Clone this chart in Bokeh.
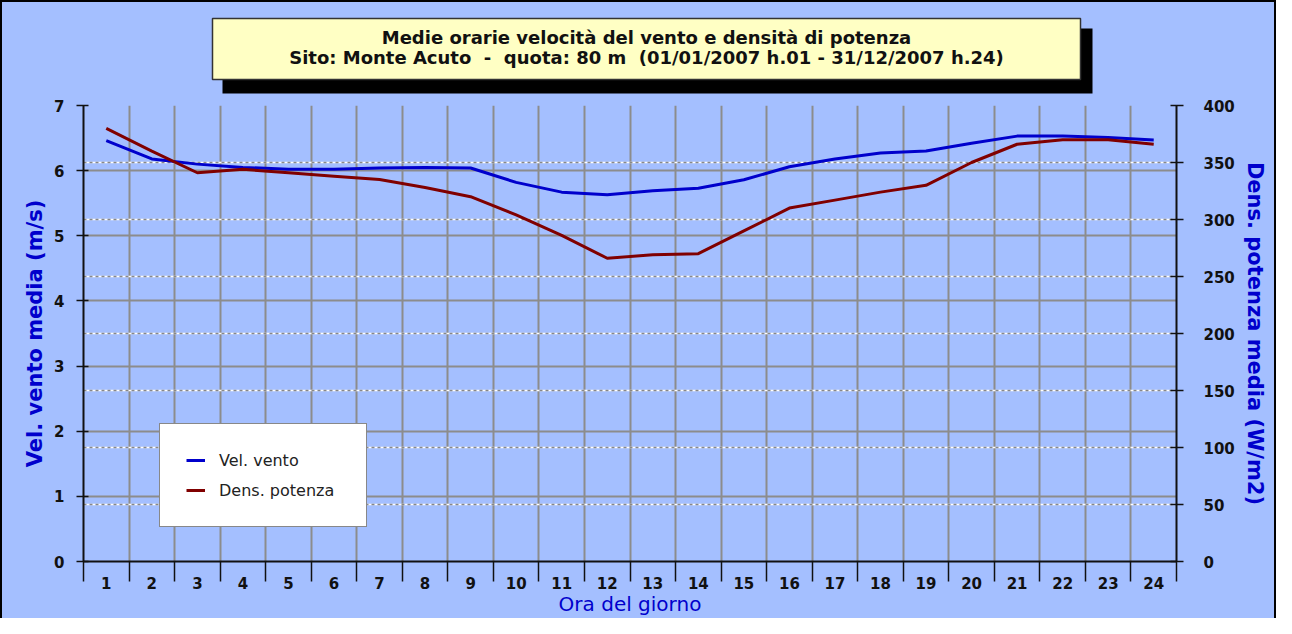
from bokeh.plotting import figure
from bokeh.models import (Range1d, LinearAxis, FixedTicker, Grid, Legend, LegendItem)
from bokeh.layouts import column
from bokeh.core.properties import value
from bokeh.embed import file_html
from bokeh.resources import INLINE

# ---- data ----
hours = list(range(1, 25))
vel_vento = [6.46, 6.18, 6.10, 6.05, 6.02, 6.02, 6.04, 6.05, 6.04, 5.82, 5.67, 5.63,
             5.69, 5.73, 5.86, 6.06, 6.18, 6.27, 6.30, 6.42, 6.53, 6.53, 6.51, 6.47]
dens_potenza = [380, 360, 341, 344, 341, 338, 335, 328, 320, 304, 286, 266,
                269, 270, 290, 310, 317, 324, 330, 350, 366, 370, 370, 366]
left_ticks = [0, 1, 2, 3, 4, 5, 6, 7]
right_ticks = [0, 50, 100, 150, 200, 250, 300, 350, 400]
series_names = ["Vel. vento", "Dens. potenza"]
title_lines = ["Medie orarie velocità del vento e densità di potenza",
               "Sito: Monte Acuto \u00a0-\u00a0 quota: 80 m \u00a0(01/01/2007 h.01 - 31/12/2007 h.24)"]
x_title = "Ora del giorno"
y_title = "Vel. vento media (m/s)"
y2_title = "Dens. potenza media (W/m2)"

BG = "#A4BFFF"
BLUE = "#0000CC"
RED = "#800000"
GRID = "#8c8c8c"
INK = "#111111"
FONT = "DejaVu Sans"

W = 1272
TOP_H = 92
MAIN_H = 524
BL, BR = 81, 98          # side borders of the plot frame

# ---------------- title strip ----------------
t = figure(width=W, height=TOP_H, output_backend="svg", toolbar_location=None,
           x_range=Range1d(BL, W - BR), y_range=Range1d(TOP_H, 0),
           min_border_left=BL, min_border_right=BR, min_border_top=0, min_border_bottom=0,
           styles={"background-color": BG})
t.axis.visible = False
t.grid.visible = False
t.outline_line_color = None
t.background_fill_color = BG
t.border_fill_color = BG
# shadow and box of the title
t.quad(left=[220], right=[1090], top=[26], bottom=[91], fill_color="black", line_color=None)
t.quad(left=[210], right=[1078], top=[16], bottom=[77], fill_color="#FFFFC4",
       line_color="#333333", line_width=1.5)
t.text(x=[644, 644], y=[35, 55], text=title_lines, text_align="center",
       text_baseline="middle", text_font=value(FONT), text_font_style="bold",
       text_font_size="18px", text_color=INK)

# ---------------- main chart ----------------
boundaries = [h - 0.5 for h in hours] + [hours[-1] + 0.5]

p = figure(width=W, height=MAIN_H, output_backend="svg", toolbar_location=None,
           x_range=Range1d(boundaries[0], boundaries[-1]),
           y_range=Range1d(left_ticks[0], left_ticks[-1]),
           min_border_left=BL, min_border_right=BR, min_border_top=11, min_border_bottom=56,
           styles={"background-color": BG})
p.background_fill_color = BG
p.border_fill_color = BG
p.outline_line_color = None
p.extra_y_ranges = {"right": Range1d(right_ticks[0], right_ticks[-1])}

# grids
p.xgrid.ticker = FixedTicker(ticks=boundaries)
p.xgrid.grid_line_color = GRID
p.xgrid.grid_line_width = 2
p.ygrid.ticker = FixedTicker(ticks=left_ticks)
p.ygrid.grid_line_color = GRID
p.ygrid.grid_line_width = 2
g_white = Grid(dimension=1, y_range_name="right", ticker=FixedTicker(ticks=right_ticks[1:-1]),
               grid_line_color="white", grid_line_width=1.5)
g_dash = Grid(dimension=1, y_range_name="right", ticker=FixedTicker(ticks=right_ticks[1:-1]),
              grid_line_color="#888888", grid_line_width=1.5, grid_line_dash="3 3")
p.add_layout(g_white)
p.add_layout(g_dash)

# x axis
xa = p.xaxis[0]
xa.ticker = FixedTicker(ticks=hours, minor_ticks=boundaries)
xa.major_tick_line_color = None
xa.major_tick_out = 0
xa.major_tick_in = 0
xa.minor_tick_out = 20
xa.minor_tick_in = 0
xa.minor_tick_line_color = INK
xa.minor_tick_line_width = 1.5
xa.axis_line_color = INK
xa.axis_line_width = 2
xa.major_label_standoff = -5
xa.major_label_text_font = FONT
xa.major_label_text_font_style = "bold"
xa.major_label_text_font_size = "15px"
xa.major_label_text_color = INK
xa.axis_label = x_title
xa.axis_label_text_font = FONT
xa.axis_label_text_font_style = "normal"
xa.axis_label_text_font_size = "20px"
xa.axis_label_text_color = BLUE
xa.axis_label_standoff = 0

# left axis
ya = p.yaxis[0]
ya.ticker = FixedTicker(ticks=left_ticks)
ya.major_tick_in = 5
ya.major_tick_out = 7
ya.major_tick_line_color = INK
ya.major_tick_line_width = 1.5
ya.axis_line_color = INK
ya.axis_line_width = 2
ya.major_label_standoff = 12
ya.major_label_text_font = FONT
ya.major_label_text_font_style = "bold"
ya.major_label_text_font_size = "15px"
ya.major_label_text_color = INK
ya.axis_label = y_title
ya.axis_label_text_font = FONT
ya.axis_label_text_font_style = "bold"
ya.axis_label_text_font_size = "21px"
ya.axis_label_text_color = BLUE
ya.axis_label_standoff = 4

# right axis
ra = LinearAxis(y_range_name="right", ticker=FixedTicker(ticks=right_ticks))
ra.major_tick_in = 6
ra.major_tick_out = 7
ra.major_tick_line_color = INK
ra.major_tick_line_width = 1.5
ra.minor_tick_line_color = None
ra.axis_line_color = INK
ra.axis_line_width = 2
ra.major_label_standoff = 20
ra.major_label_text_font = FONT
ra.major_label_text_font_style = "bold"
ra.major_label_text_font_size = "15px"
ra.major_label_text_color = INK
ra.axis_label = y2_title
ra.axis_label_text_font = FONT
ra.axis_label_text_font_style = "bold"
ra.axis_label_text_font_size = "21px"
ra.axis_label_text_color = BLUE
ra.axis_label_standoff = 5
p.add_layout(ra, "right")

# series
r1 = p.line(hours, vel_vento, line_color=BLUE, line_width=3)
r2 = p.line(hours, dens_potenza, line_color=RED, line_width=3, y_range_name="right")

legend = Legend(items=[LegendItem(label=series_names[0], renderers=[r1]),
                       LegendItem(label=series_names[1], renderers=[r2])],
                location=(76, 34), orientation="vertical",
                padding=26, spacing=10, margin=0,
                glyph_width=19, glyph_height=20, label_height=20, label_width=121,
                label_standoff=14,
                label_text_font=FONT, label_text_font_size="16px", label_text_color="#222222",
                border_line_color=INK, border_line_width=1.5,
                background_fill_color="white", background_fill_alpha=1.0)
p.add_layout(legend)

layout = column(t, p, spacing=0,
                styles={"border-left": "2px solid black", "border-right": "2px solid black",
                        "border-top": "2px solid black", "background-color": BG})

open("out.html", "w").write(file_html(layout, INLINE))
